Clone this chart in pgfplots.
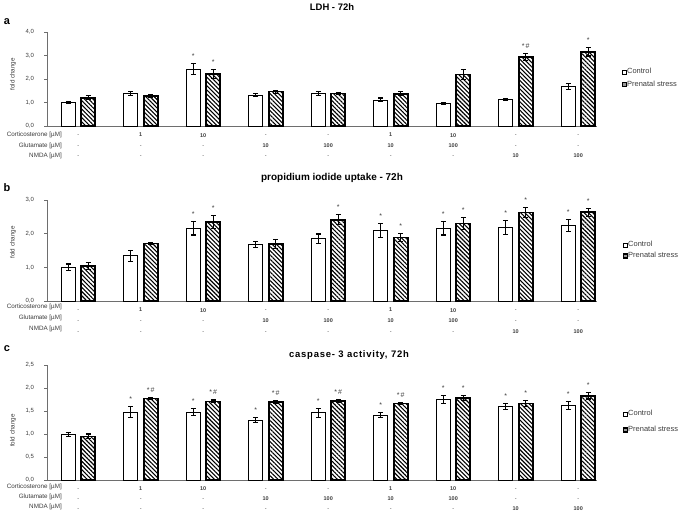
\documentclass[border=0pt]{standalone}
\usepackage{pgfplots}
\pgfplotsset{compat=1.18}
\usepackage{pgfplotstable}
\usepackage{fontspec}
\setmainfont{Liberation Sans}
\usetikzlibrary{patterns,patterns.meta}

\pgfplotstableread{
x c ce p pe cl pl
0 1.00 0.02 1.20 0.08 n n
1 1.38 0.10 1.27 0.07 n n
2 2.42 0.23 2.21 0.19 s s
3 1.32 0.08 1.46 0.06 n n
4 1.38 0.10 1.38 0.03 n n
5 1.11 0.08 1.37 0.08 n n
6 0.95 0.03 2.19 0.23 n n
7 1.13 0.03 2.93 0.16 n h
8 1.69 0.12 3.16 0.18 n s
}\tabA

\pgfplotstableread{
x c ce p pe cl pl
0 1.00 0.10 1.04 0.10 n n
1 1.34 0.17 1.71 0.04 n n
2 2.16 0.20 2.35 0.20 s s
3 1.68 0.10 1.69 0.14 n n
4 1.85 0.14 2.41 0.15 n s
5 2.09 0.20 1.89 0.12 s s
6 2.16 0.20 2.30 0.17 s s
7 2.18 0.20 2.63 0.15 s s
8 2.25 0.18 2.64 0.12 s s
}\tabB

\pgfplotstableread{
x c ce p pe cl pl
0 0.99 0.04 0.95 0.05 n n
1 1.48 0.12 1.77 0.02 s h
2 1.48 0.08 1.71 0.03 s h
3 1.30 0.05 1.70 0.03 s h
4 1.46 0.10 1.72 0.03 s h
5 1.41 0.06 1.66 0.02 s h
6 1.75 0.08 1.78 0.05 s s
7 1.60 0.06 1.66 0.07 s s
8 1.62 0.08 1.83 0.07 s s
}\tabC

\def\labn{}\def\labs{*}\def\labh{*\,\#}
\newcommand{\f}[1]{\vphantom{1}#1}
\definecolor{axgray}{RGB}{110,110,110}
\definecolor{txtgray}{RGB}{60,60,60}

\pgfplotsset{
  panel/.style={
    scale only axis, width=550bp, xmin=-0.5, xmax=8.3, ymin=0,
    axis x line*=bottom, axis y line*=left,
    axis line style={axgray, line width=0.9bp},
    clip=false,
    xtick={0,...,8},
    x tick style={draw=none},
    y tick style={axgray, line width=0.7bp},
    tick align=outside, major tick length=2.5bp,
    /pgf/number format/assume math mode=true,
    yticklabel style={font=\fontsize{6}{7}\selectfont, text=txtgray, xshift=-7bp,
      /pgf/number format/.cd, fixed, fixed zerofill, precision=1, use comma},
    xticklabels={{\f{-}\\-\\-},{\f{\textbf{1}}\\-\\-},{\f{\textbf{10}}\\-\\-},{\f{-}\\\textbf{10}\\-},{\f{-}\\\textbf{100}\\-},{\f{\textbf{1}}\\\textbf{10}\\-},{\f{\textbf{10}}\\\textbf{100}\\-},{\f{-}\\-\\\textbf{10}},{\f{-}\\-\\\textbf{100}}},
    xticklabel style={align=center, anchor=north, inner sep=0pt, text=txtgray},
    ylabel={fold change},
    legend cell align=left,
  },
  errs/.style={
    error bars/y dir=both, error bars/y explicit,
    error bars/error bar style={line width=1.1bp, black, solid},
    error bars/error mark options={rotate=90, mark size=2.3bp, line width=1.1bp, black}},
  cbar/.style={ybar, bar width=14bp, bar shift=0pt, draw=black, fill=white, line width=0.8bp, errs,
    legend image code/.code={\draw[black, line width=0.6bp, fill=white] (0bp,-2bp) rectangle (4bp,2bp);}},
  pbar/.style={ybar, bar width=14bp, bar shift=0pt, draw=black, line width=1.6bp,
    pattern={Lines[angle=-45, distance=3bp, line width=1.1bp]}, errs,
    legend image code/.code={\draw[black, line width=1.2bp, fill=black!40] (0bp,-2bp) rectangle (4bp,2bp);}},
  ann/.style={draw=none, mark=none, forget plot, nodes near coords={\csname lab\pgfplotspointmeta\endcsname},
    point meta=explicit symbolic,
    every node near coord/.style={anchor=base, yshift=5bp, inner sep=0pt, font=\fontsize{7}{8}\selectfont, text=txtgray}},
}

\newcommand{\rowlabels}[3]{%
  \node[anchor=base east, font=\fontsize{6.3}{7}\selectfont, text=txtgray, inner sep=0pt] at (62bp,-#1bp) {Corticosterone [µM]};
  \node[anchor=base east, font=\fontsize{6.3}{7}\selectfont, text=txtgray, inner sep=0pt] at (62bp,-#2bp) {Glutamate [µM]};
  \node[anchor=base east, font=\fontsize{6.3}{7}\selectfont, text=txtgray, inner sep=0pt] at (62bp,-#3bp) {NMDA [µM]};
}

\begin{document}
\begin{tikzpicture}
\useasboundingbox (0,0) rectangle (685bp,-511bp);

% ---------- panel a ----------
\begin{axis}[panel, at={(47bp,-126bp)}, anchor=south west, height=94bp,
  ymax=4, ytick={0,1,2,3,4},
  xticklabel style={font=\fontsize{5.5}{10.3}\selectfont, yshift=-4.5bp},
  every axis y label/.style={at={(rel axis cs:-0.062,0.55)}, rotate=90, anchor=center, font=\fontsize{6.3}{7}\selectfont, text=txtgray},
  legend style={at={(1.045,0.612)}, anchor=north west, draw=none, fill=none, inner sep=0pt,
    font=\fontsize{7.5}{8}\selectfont, row sep=6bp, nodes={text height=5bp, text depth=1.5bp, inner sep=0pt, text=txtgray}},
]
\addplot[cbar] table[x expr=\thisrow{x}-0.16, y=c, y error=ce] {\tabA};
\addlegendentry{Control}
\addplot[pbar] table[x expr=\thisrow{x}+0.16, y=p, y error=pe] {\tabA};
\addlegendentry{Prenatal stress}
\addplot[ann] table[x expr=\thisrow{x}-0.16, y expr=\thisrow{c}+\thisrow{ce}, meta=cl] {\tabA};
\addplot[ann] table[x expr=\thisrow{x}+0.16, y expr=\thisrow{p}+\thisrow{pe}, meta=pl] {\tabA};
\end{axis}
\rowlabels{136.5}{147}{157}
\node[font=\bfseries\fontsize{9.5}{10}\selectfont] at (332bp,-7bp) {LDH - 72h};
\node[font=\bfseries\fontsize{11}{12}\selectfont] at (7bp,-22bp) {a};

% ---------- panel b ----------
\begin{axis}[panel, at={(47bp,-301bp)}, anchor=south west, height=101bp,
  ymax=3, ytick={0,1,2,3},
  xticklabel style={font=\fontsize{5.5}{11}\selectfont, yshift=-4.5bp},
  every axis y label/.style={at={(rel axis cs:-0.062,0.58)}, rotate=90, anchor=center, font=\fontsize{6.3}{7}\selectfont, text=txtgray},
  legend style={at={(1.047,0.589)}, anchor=north west, draw=none, fill=none, inner sep=0pt,
    font=\fontsize{7.5}{8}\selectfont, row sep=4.5bp, nodes={text height=5bp, text depth=1.5bp, inner sep=0pt, text=txtgray}},
]
\addplot[cbar] table[x expr=\thisrow{x}-0.16, y=c, y error=ce] {\tabB};
\addlegendentry{Control}
\addplot[pbar] table[x expr=\thisrow{x}+0.16, y=p, y error=pe] {\tabB};
\addlegendentry{Prenatal stress}
\addplot[ann] table[x expr=\thisrow{x}-0.16, y expr=\thisrow{c}+\thisrow{ce}, meta=cl] {\tabB};
\addplot[ann] table[x expr=\thisrow{x}+0.16, y expr=\thisrow{p}+\thisrow{pe}, meta=pl] {\tabB};
\end{axis}
\rowlabels{308.5}{319.5}{330.5}
\node[font=\bfseries\fontsize{10}{11}\selectfont] at (332bp,-178bp) {propidium iodide uptake - 72h};
\node[font=\bfseries\fontsize{11}{12}\selectfont] at (7bp,-188bp) {b};

% ---------- panel c ----------
\begin{axis}[panel, at={(47bp,-480bp)}, anchor=south west, height=115bp,
  ymax=2.5, ytick={0,0.5,1,1.5,2,2.5},
  xticklabel style={font=\fontsize{5.5}{10}\selectfont, yshift=-4bp},
  every axis y label/.style={at={(rel axis cs:-0.062,0.43)}, rotate=90, anchor=center, font=\fontsize{6.3}{7}\selectfont, text=txtgray},
  legend style={at={(1.047,0.604)}, anchor=north west, draw=none, fill=none, inner sep=0pt,
    font=\fontsize{7.5}{8}\selectfont, row sep=9.5bp, nodes={text height=5bp, text depth=1.5bp, inner sep=0pt, text=txtgray}},
]
\addplot[cbar] table[x expr=\thisrow{x}-0.16, y=c, y error=ce] {\tabC};
\addlegendentry{Control}
\addplot[pbar] table[x expr=\thisrow{x}+0.16, y=p, y error=pe] {\tabC};
\addlegendentry{Prenatal stress}
\addplot[ann] table[x expr=\thisrow{x}-0.16, y expr=\thisrow{c}+\thisrow{ce}, meta=cl] {\tabC};
\addplot[ann] table[x expr=\thisrow{x}+0.16, y expr=\thisrow{p}+\thisrow{pe}, meta=pl] {\tabC};
\end{axis}
\rowlabels{488.5}{498.5}{508.5}
\node[font=\bfseries\fontsize{9.5}{10}\selectfont] at (349bp,-355bp) {\addfontfeatures{LetterSpace=8}caspase- 3 activity, 72h};
\node[font=\bfseries\fontsize{11}{12}\selectfont] at (7bp,-349bp) {c};

\end{tikzpicture}
\end{document}
